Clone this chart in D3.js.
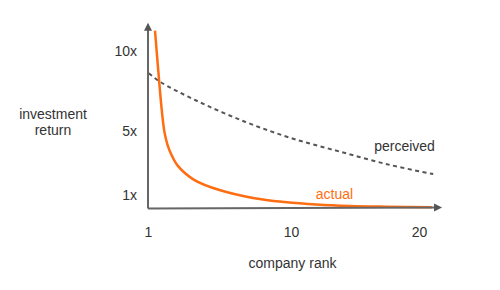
<!DOCTYPE html>
<html>
<head>
<meta charset="utf-8">
<script src="https://cdn.jsdelivr.net/npm/d3@7"></script>
<style>
  body { margin: 0; background: #fff; }
  text { font-family: "Liberation Sans", Arial, sans-serif; fill: #333; }
</style>
</head>
<body>
<div id="chart"></div>
<script>
document.addEventListener("DOMContentLoaded", function() {

// Data
var xTicks = [1, 10, 20];
var yTicks = [1, 5, 10];
var yTickLabels = ["1x", "5x", "10x"];

var actualRank  = [1.44, 1.70, 1.86, 2.03, 2.22, 2.44, 2.88, 3.90, 5.50, 7.7, 9.6, 12.0, 14.6, 17.5, 21.0];
var actualValue = [11.30, 8.17, 6.40, 5.00, 4.20, 3.62, 2.85, 1.98, 1.34, 0.83, 0.59, 0.43, 0.34, 0.30, 0.27];

var perceivedRank  = [1.06, 1.755, 3.96, 7.10, 10.05, 13.83, 17.73, 21.11];
var perceivedValue = [8.64, 8.11, 6.97, 5.61, 4.58, 3.74, 2.91, 2.34];

var width = 500, height = 290;
var orange = "#ff6d12", axisColor = "#666";

var svg = d3.select("#chart")
  .append("svg")
  .attr("width", width)
  .attr("height", height);

// scales
var x = d3.scaleLinear()
  .domain([1, 10, 20])
  .range([148, 291, 419]);
var y = d3.scaleLinear()
  .domain([0.25, 10])
  .range([207.5, 51.5]);

var xMax = 21.8, yMax = 11.8;

var line = d3.line()
  .x(function(d) { return x(d[0]); })
  .y(function(d) { return y(d[1]); })
  .curve(d3.curveCatmullRom.alpha(0.5));

// perceived (dashed)
svg.append("path")
  .datum(d3.zip(perceivedRank, perceivedValue))
  .attr("d", line)
  .attr("fill", "none")
  .attr("stroke", "#555")
  .attr("stroke-width", 2)
  .attr("stroke-dasharray", "4,3.5");

// actual
svg.append("path")
  .datum(d3.zip(actualRank, actualValue))
  .attr("d", line)
  .attr("fill", "none")
  .attr("stroke", orange)
  .attr("stroke-width", 2.5);

// axis lines with arrows
var x0 = x(1), y0 = y(0.25), xEnd = x(xMax), yEnd = y(yMax);
svg.append("line")
  .attr("x1", x0).attr("y1", y0 + 1)
  .attr("x2", xEnd - 6).attr("y2", y0)
  .attr("stroke", axisColor).attr("stroke-width", 2);
svg.append("line")
  .attr("x1", x0).attr("y1", y0 + 1)
  .attr("x2", x0).attr("y2", yEnd + 6)
  .attr("stroke", axisColor).attr("stroke-width", 2);
svg.append("path")
  .attr("d", "M" + xEnd + "," + y0 + "L" + (xEnd - 8) + "," + (y0 - 4) + "L" + (xEnd - 8) + "," + (y0 + 4) + "Z")
  .attr("fill", "#555");
svg.append("path")
  .attr("d", "M" + x0 + "," + yEnd + "L" + (x0 - 4) + "," + (yEnd + 8) + "L" + (x0 + 4) + "," + (yEnd + 8) + "Z")
  .attr("fill", "#555");

// tick labels
var xAxis = svg.append("g")
  .attr("transform", "translate(0," + y0 + ")")
  .call(d3.axisBottom(x).tickValues(xTicks).tickSize(0).tickPadding(19.6).tickFormat(d3.format("d")));
var yAxis = svg.append("g")
  .attr("transform", "translate(" + x0 + ",0)")
  .call(d3.axisLeft(y).tickValues(yTicks).tickSize(0).tickPadding(11)
    .tickFormat(function(d, i) { return yTickLabels[i]; }));
[xAxis, yAxis].forEach(function(g) {
  g.select(".domain").remove();
  g.selectAll("text")
    .style("font-size", "14px")
    .style("font-family", "'Liberation Sans', Arial, sans-serif")
    .attr("fill", "#333");
});

// labels
var yLabel = svg.append("text")
  .attr("text-anchor", "middle")
  .style("font-size", "14px");
yLabel.append("tspan").attr("x", 53).attr("y", 118.5).text("investment");
yLabel.append("tspan").attr("x", 53).attr("y", 134.5).text("return");

svg.append("text")
  .attr("x", 292.5).attr("y", 268)
  .attr("text-anchor", "middle")
  .style("font-size", "14px")
  .text("company rank");

svg.append("text")
  .attr("x", 404.5).attr("y", 150.5)
  .attr("text-anchor", "middle")
  .style("font-size", "14px")
  .text("perceived");

svg.append("text")
  .attr("x", 334.5).attr("y", 199)
  .attr("text-anchor", "middle")
  .style("font-size", "14px")
  .style("fill", orange)
  .text("actual");

});
</script>
</body>
</html>
